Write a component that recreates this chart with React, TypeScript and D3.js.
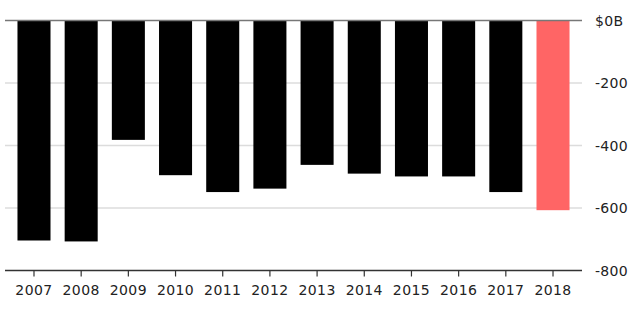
import React from "react";
import * as d3 from "d3";

const years = ["2007","2008","2009","2010","2011","2012","2013","2014","2015","2016","2017","2018"];
const values = [-704, -707, -382, -495, -549, -538, -462, -490, -499, -499, -549, -607];
const yTicks = [0, -200, -400, -600, -800];
const yTickLabels = ["$0B", "-200", "-400", "-600", "-800"];

const W = 640, H = 309;
const FONT = "'DejaVu Sans', sans-serif";

export default function App() {
  const x = d3.scaleBand<string>().domain(years).range([10.4, 576.6]).paddingInner(0.3).paddingOuter(0.15);
  const y = d3.scaleLinear().domain([-800, 0]).range([270.5, 20.5]);
  const lineX0 = 5, lineX1 = 582;
  return (
    <svg width={W} height={H} style={{ position: "absolute", left: 0, top: 0, background: "#fff" }}>
      {yTicks.filter(t => t !== 0 && t !== -800).map(t => (
        <line key={t} x1={lineX0} x2={lineX1} y1={y(t)} y2={y(t)} stroke="#dcdcdc" strokeWidth={1.5} />
      ))}
      {years.map((yr, i) => (
        <rect key={yr} x={x(yr)} width={x.bandwidth()} y={y(0)} height={y(values[i]) - y(0)}
          fill={i === years.length - 1 ? "#ff6565" : "#000"} />
      ))}
      <line x1={lineX0} x2={lineX1} y1={y(0)} y2={y(0)} stroke="#777" strokeWidth={1.5} />
      <line x1={lineX0} x2={lineX1} y1={y(-800)} y2={y(-800)} stroke="#333" strokeWidth={1.5} />
      {years.map(yr => {
        const cx = (x(yr) as number) + x.bandwidth() / 2;
        return (
          <g key={yr}>
            <line x1={cx} x2={cx} y1={y(-800)} y2={y(-800) + 6} stroke="#333" strokeWidth={1.2} />
            <text x={cx} y={294.5} textAnchor="middle" fontFamily={FONT} fontSize={14} letterSpacing={0.4} fill="#222">{yr}</text>
          </g>
        );
      })}
      {yTicks.map((t, i) => (
        <text key={t} x={595} y={y(t) + 5.3} fontFamily={FONT} fontSize={14} letterSpacing={0.3} fill="#222">{yTickLabels[i]}</text>
      ))}
    </svg>
  );
}
